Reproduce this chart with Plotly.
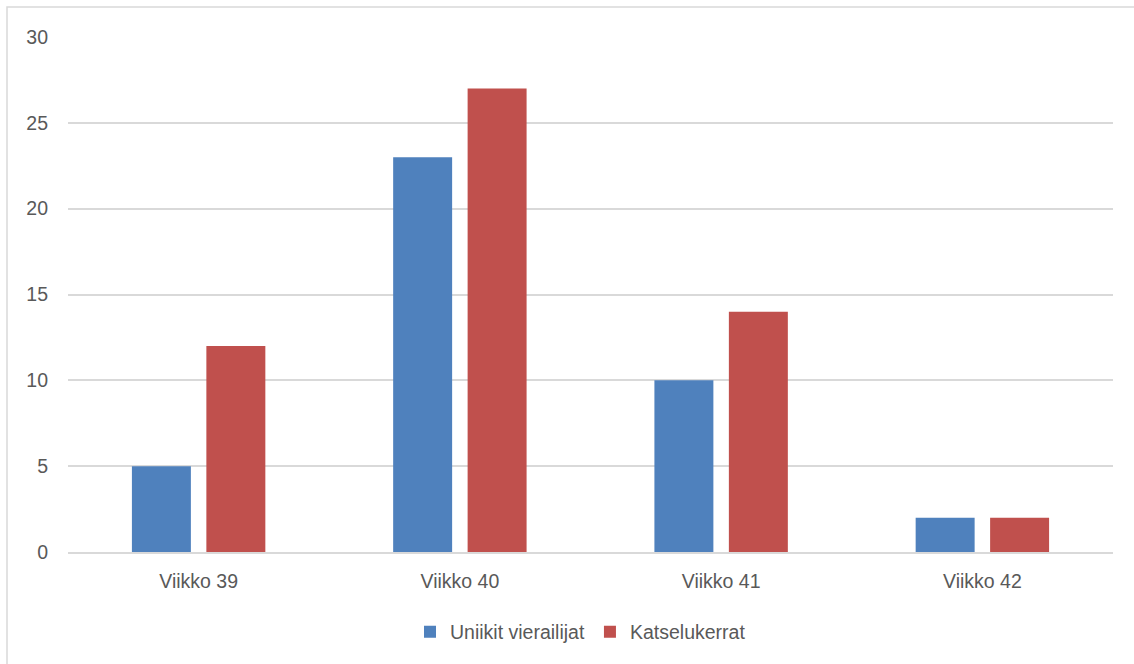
import plotly.graph_objects as go

categories = ["Viikko 39", "Viikko 40", "Viikko 41", "Viikko 42"]
uniikit = [5, 23, 10, 2]
katselut = [12, 27, 14, 2]
series_names = ["Uniikit vierailijat", "Katselukerrat"]
colors = ["#4F81BD", "#C0504D"]

W, H = 1134, 664
ml, mr, mt, mb = 68, 21, 37, 112
pw, ph = W - ml - mr, H - mt - mb

fig = go.Figure()
for name, vals, col in zip(series_names, [uniikit, katselut], colors):
    fig.add_trace(go.Bar(x=categories, y=vals, name=name, marker_color=col,
                         marker_line_width=0, hoverinfo="x+y+name"))

font = dict(family="Liberation Sans, Arial, sans-serif", size=19.5, color="#595959")

fig.update_layout(
    width=W, height=H,
    margin=dict(l=ml, r=mr, t=mt, b=mb),
    paper_bgcolor="white", plot_bgcolor="white",
    barmode="group", bargap=0.43, bargroupgap=0.208,
    font=font,
    showlegend=True,
    legend=dict(orientation="h", x=0.5 - 10 / pw, xanchor="center", y=-(632 - (H - mb)) / ph,
                yanchor="middle", font=font, traceorder="normal"),
    xaxis=dict(showgrid=False, showline=True, linecolor="#d9d9d9", linewidth=1.5,
               ticks="", tickfont=font, ticklabelstandoff=11),
    yaxis=dict(range=[0, 30], dtick=5, showgrid=True, gridcolor="#d9d9d9", gridwidth=1.5,
               zeroline=False, showline=False, ticks="", tickfont=font, ticklabelstandoff=19),
    shapes=[dict(type="rect", xref="paper", yref="paper",
                 x0=(7 - ml) / pw, x1=(W + 20 - ml) / pw,
                 y0=-(mb + 20) / ph, y1=(H - mb - 7) / ph,
                 line=dict(color="#d9d9d9", width=1.5), fillcolor="rgba(0,0,0,0)", layer="below")],
)

fig.write_html("out.html", config={"displayModeBar": False},
               post_script="document.body.style.margin='0';")
